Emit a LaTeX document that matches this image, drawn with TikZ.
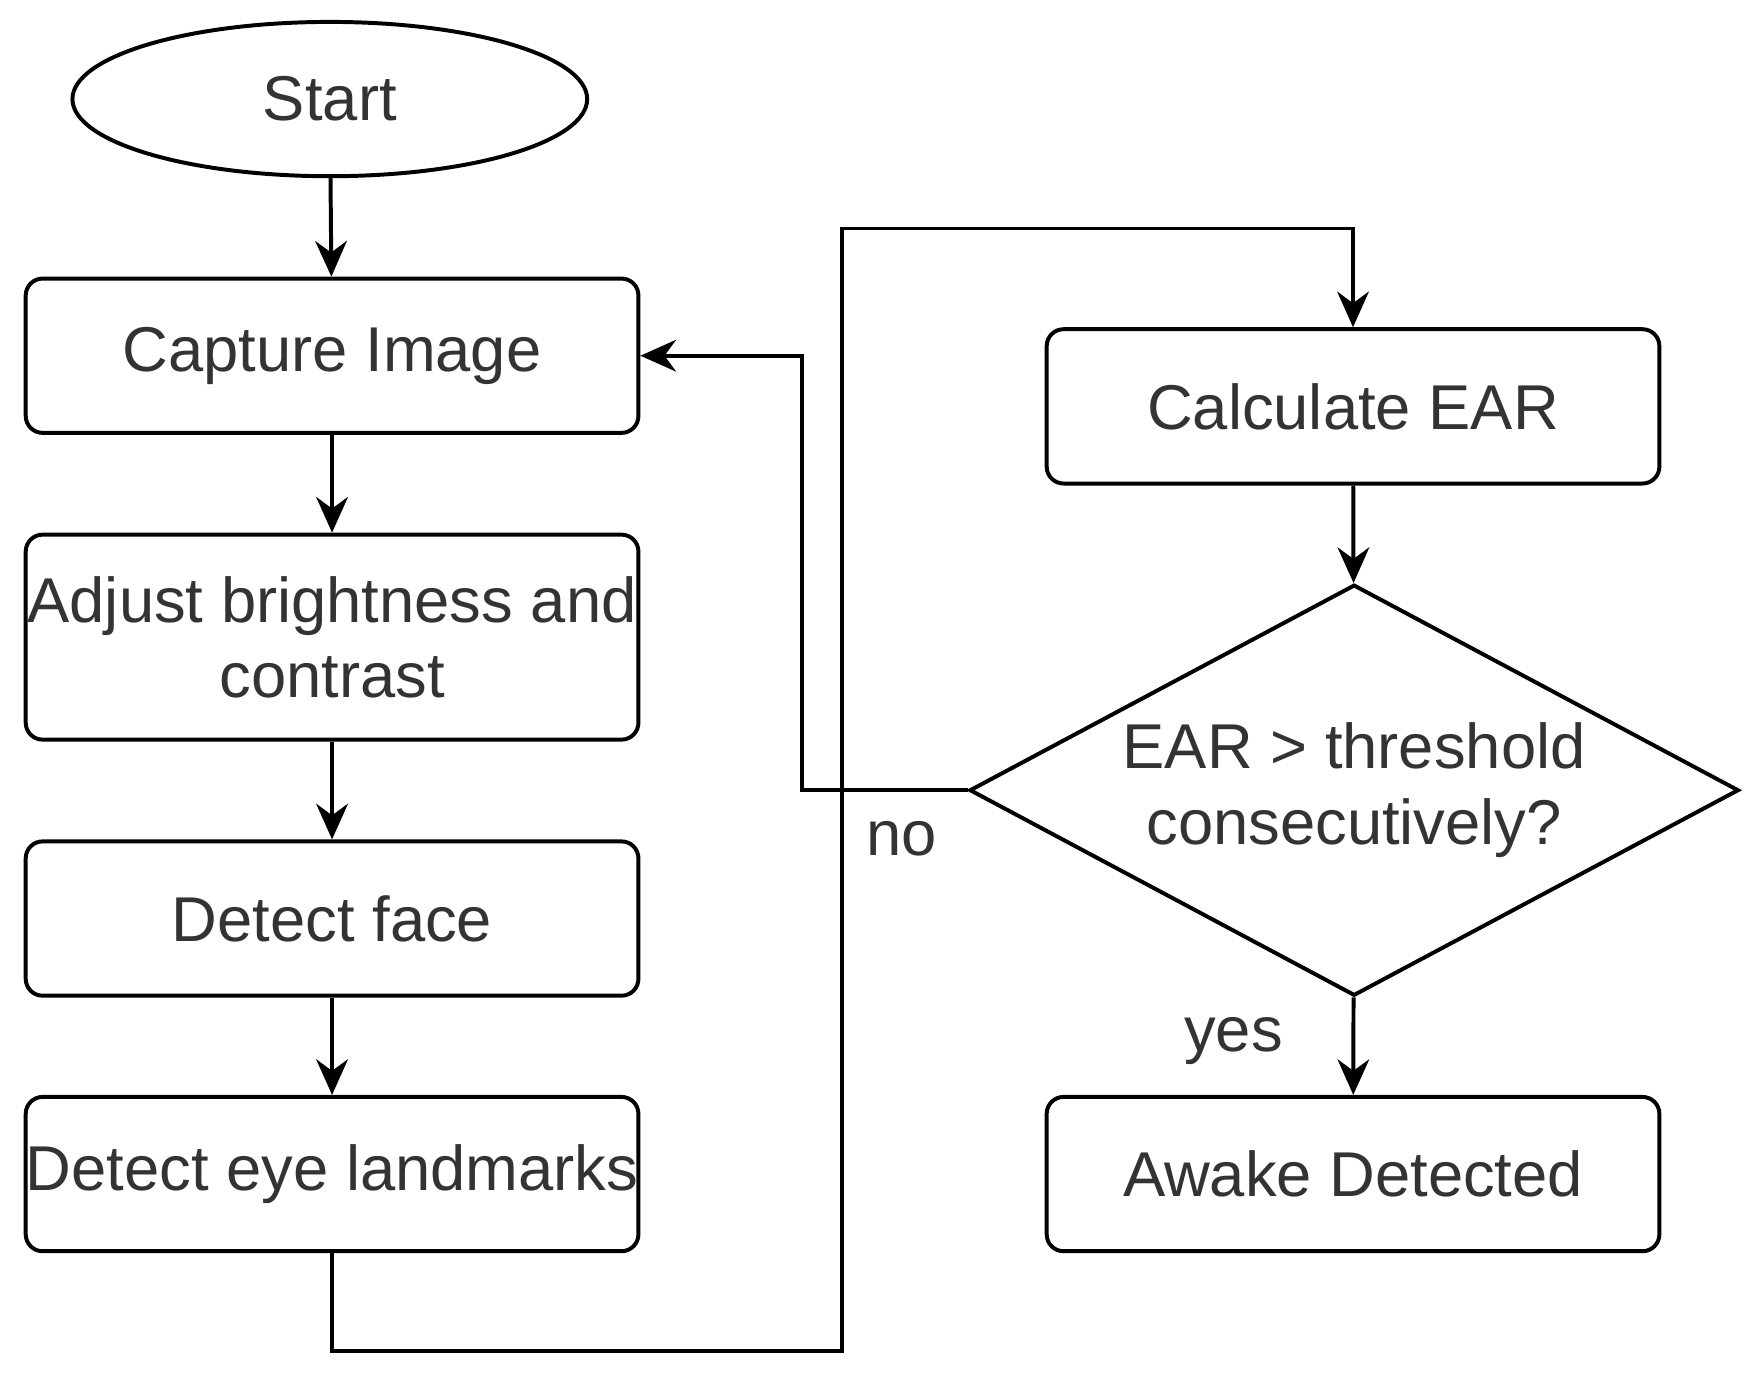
\documentclass[tikz,border=0pt]{standalone}
\usepackage{fontspec}
\setmainfont{Liberation Sans}
\usetikzlibrary{shapes.geometric,arrows.meta}

\begin{document}
\begin{tikzpicture} [x=0.01cm,y=-0.01cm,line width=1pt,>={Stealth[length=9pt,width=8pt]},
		every node/.style={font=\fontsize{16}{19}\selectfont,text=black!80},
		process/.style={draw,rounded corners=0.15cm,minimum width=5.44cm,minimum height=1.37cm,align=center,inner sep=0pt},
		terminal/.style={draw,ellipse,minimum width=4.57cm,minimum height=1.37cm},
		decision/.style={draw,diamond,minimum width=6.83cm,minimum height=3.65cm,aspect=1.87,inner sep=0pt,align=center}]

			\useasboundingbox (0,0) rectangle (1560,1220);

			\node [terminal] (start) at (293,88) {Start};
			\node [process] (capture) at (295,316) {Capture Image};
			\node [process,minimum height=1.82cm] (adjust) at (295,566) {Adjust brightness and\\contrast};
			\node [process] (face) at (295,816) {Detect face};
			\node [process] (eyes) at (295,1043) {Detect eye landmarks};
			\node [process] (ear) at (1202,361) {Calculate EAR};
			\node [decision] (check) at (1203,702) {EAR > threshold\\consecutively?};
			\node [process] (awake) at (1202,1043) {Awake Detected};
			\coordinate (loop-a) at (295,1200);
			\coordinate (loop-b) at (748,203);

			\draw [->] (start) -- (capture);
			\draw [->] (capture) -- (adjust);
			\draw [->] (adjust) -- (face);
			\draw [->] (face) -- (eyes);
			\draw [->] (eyes) -- (loop-a) -| (loop-b) -| (ear);
			\draw [->] (ear) -- (check);
			\draw [->] (check) -- node [left=14pt,pos=0.45] {yes} (awake);
			\draw [->] (check.west) -- node [below=4pt,pos=0.4] {no} ++(-147,0) |- (capture.east);
		\end{tikzpicture}
\end{document}
